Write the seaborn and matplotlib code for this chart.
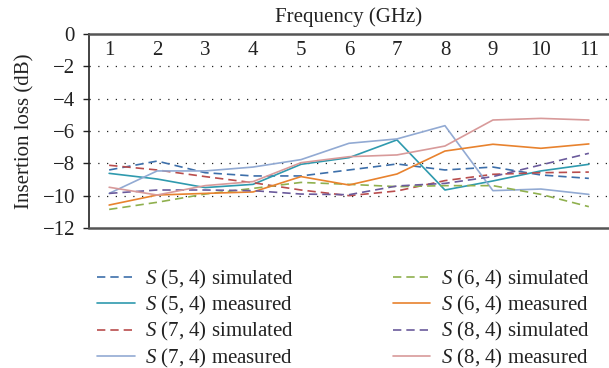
import numpy as np
import pandas as pd
import matplotlib
matplotlib.use("Agg")
import matplotlib.pyplot as plt
import seaborn as sns

freq = [1, 2, 3, 4, 5, 6, 7, 8, 9, 10, 11]
s54_sim = [-8.41, -7.86, -8.58, -8.78, -8.78, -8.41, -8.04, -8.41, -8.23, -8.72, -8.93]
s54_meas = [-8.62, -8.97, -9.50, -9.30, -8.06, -7.65, -6.55, -9.65, -9.09, -8.47, -8.06]
s74_sim = [-8.12, -8.41, -8.82, -9.20, -9.65, -10.0, -9.71, -9.07, -8.68, -8.58, -8.54]
s74_meas = [-9.86, -8.47, -8.47, -8.23, -7.77, -6.76, -6.49, -5.67, -9.69, -9.59, -9.92]
s64_sim = [-10.85, -10.41, -9.90, -9.55, -9.18, -9.30, -9.44, -9.38, -9.38, -9.92, -10.68]
s64_meas = [-10.58, -9.96, -9.86, -9.77, -8.82, -9.34, -8.66, -7.24, -6.82, -7.07, -6.80]
s84_sim = [-9.86, -9.65, -9.65, -9.69, -9.90, -9.94, -9.40, -9.24, -8.82, -8.10, -7.38]
s84_meas = [-9.48, -9.96, -9.38, -9.13, -7.96, -7.59, -7.48, -6.93, -5.32, -5.22, -5.32]

labels = [r"$S$ (5, 4) simulated", r"$S$ (5, 4) measured",
          r"$S$ (7, 4) simulated", r"$S$ (7, 4) measured",
          r"$S$ (6, 4) simulated", r"$S$ (6, 4) measured",
          r"$S$ (8, 4) simulated", r"$S$ (8, 4) measured"]
series = [s54_sim, s54_meas, s74_sim, s74_meas, s64_sim, s64_meas, s84_sim, s84_meas]
colors = ["#3d6faa", "#2f9aae", "#b94d4d", "#92aad3",
          "#8fb04e", "#e8822e", "#6b5b9c", "#d89a9a"]
dashed = [True, False, True, False, True, False, True, False]

rows = []
for lab, vals in zip(labels, series):
    for f, v in zip(freq, vals):
        rows.append({"freq": f, "loss": v, "series": lab})
df = pd.DataFrame(rows)

sns.set_theme(style="white")
plt.rcParams["font.family"] = ["Liberation Serif", "DejaVu Serif"]
plt.rcParams["mathtext.fontset"] = "custom"
plt.rcParams["mathtext.it"] = "Liberation Serif:italic"
plt.rcParams["mathtext.rm"] = "Liberation Serif"
plt.rcParams["axes.unicode_minus"] = True

FS = 15
fig = plt.figure(figsize=(6.09, 3.68), dpi=100)
ax = fig.add_axes([89 / 609, 1 - 228 / 368, 1 - 89 / 609, (228 - 34) / 368])

palette = dict(zip(labels, colors))
dash_map = {lab: ((5, 3) if d else "") for lab, d in zip(labels, dashed)}
sns.lineplot(data=df, x="freq", y="loss", hue="series", style="series",
             hue_order=labels, style_order=labels, palette=palette,
             dashes=dash_map, linewidth=1.2, ax=ax, legend=True)

ax.set_xlim(0.58, 11.42)
ax.set_ylim(-12, 0)
ax.set_yticks([0, -2, -4, -6, -8, -10, -12])
ax.set_yticklabels(["0", "\u22122", "\u22124", "\u22126", "\u22128", "\u221210", "\u221212"])
ax.set_xticks(freq)
ax.set_xticklabels([str(f) for f in freq])
ax.xaxis.tick_top()
ax.xaxis.set_label_position("top")
ax.tick_params(axis="x", length=0, pad=-19, labelsize=FS, colors="#222222")
ax.tick_params(axis="y", length=4, width=1, direction="out", left=True, labelsize=FS,
               colors="#222222", pad=6)
ax.set_xlabel("Frequency (GHz)", fontsize=FS, color="#222222")
ax.xaxis.set_label_coords(0.5, 1.06)
ax.set_ylabel("Insertion loss (dB)", fontsize=FS, labelpad=6, color="#222222")

for y in [-2, -4, -6, -8, -10]:
    ax.axhline(y, color="#222222", linestyle=(0, (1, 6)), linewidth=0.9, zorder=0)

for side in ["top", "bottom"]:
    ax.spines[side].set_color("#555555")
    ax.spines[side].set_linewidth(1.8)
ax.spines["left"].set_color("#222222")
ax.spines["left"].set_linewidth(1.2)
ax.spines["right"].set_visible(False)

handles, labs = ax.get_legend_handles_labels()
ax.get_legend().remove()
fig.legend(handles, labs, ncol=2, loc="upper left", bbox_to_anchor=(97 / 609, 1 - 268 / 368),
           frameon=False, fontsize=FS, handlelength=1.8, columnspacing=4.75,
           labelspacing=0.15, handletextpad=0.5, borderpad=0, borderaxespad=0,
           labelcolor="#222222")

fig.savefig("out.png", dpi=100)
